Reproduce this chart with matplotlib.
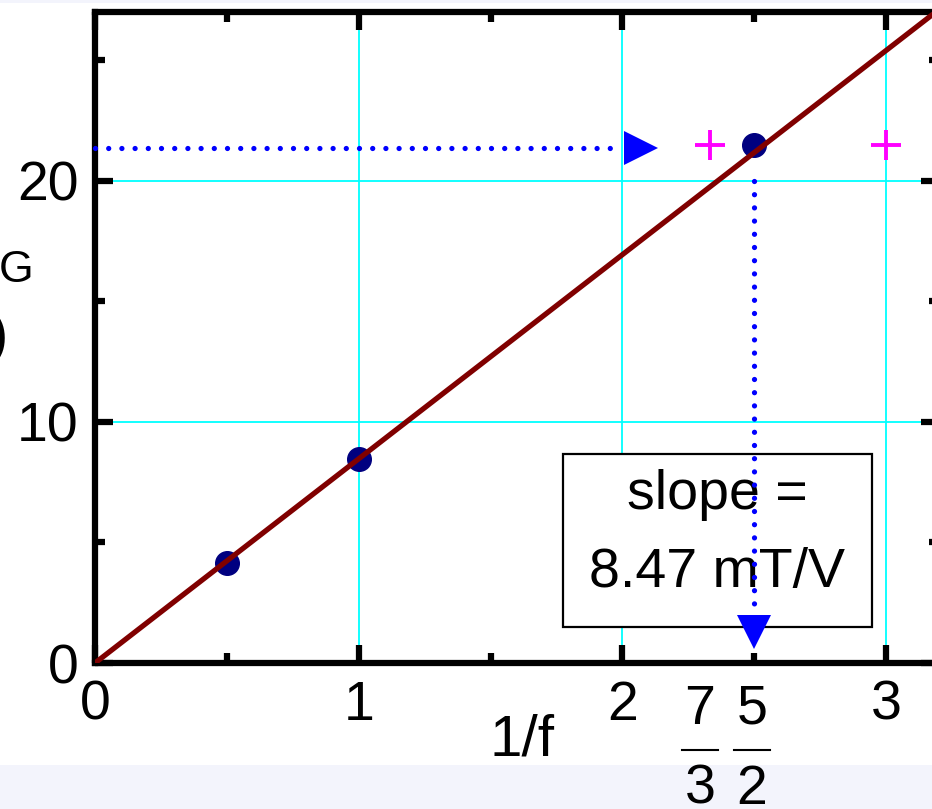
import matplotlib
matplotlib.use('Agg')
import matplotlib.pyplot as plt
from matplotlib.patches import Rectangle
from matplotlib.lines import Line2D

plt.rcParams['font.family'] = ['Liberation Sans', 'DejaVu Sans']

# measured points (1/f, field)
x_pts = [0.5, 1.0, 2.5]
y_pts = [4.15, 8.45, 21.5]

# predicted positions marked with crosses
x_cross = [7 / 3, 3.0]
y_cross = [21.5, 21.5]

slope = 8.47
fit_x = [0.0, 3.3]
fit_y = [slope * v for v in fit_x]

# guide arrows
guide_y = 21.35
guide_x_end = 2.0
drop_x = 2.5
drop_top, drop_bottom = 20.0, 2.3

W, H = 932, 809
fig = plt.figure(figsize=(W / 100, H / 100), dpi=100)
fig.patch.set_facecolor('white')

# lavender strips at top and bottom of the crop
fig.patches.append(Rectangle((0, 0), 1, 44 / H, transform=fig.transFigure,
                             facecolor='#f3f4fc', edgecolor='none', zorder=0))
fig.patches.append(Rectangle((0, 1 - 3 / H), 1, 3 / H, transform=fig.transFigure,
                             facecolor='#f3f4fc', edgecolor='none', zorder=0))

ax = fig.add_axes([95 / W, 146 / H, 844 / W, 651 / H])
ax.set_xlim(0, 3.2)
ax.set_ylim(0, 27)

ax.set_xticks([0, 1, 2, 3])
ax.set_xticks([0.5, 1.5, 2.5], minor=True)
ax.set_yticks([0, 10, 20])
ax.set_yticks([5, 15, 25], minor=True)
ax.tick_params(which='both', direction='in', top=True, right=True,
               labelsize=40, width=4.5, pad=12)
ax.tick_params(which='major', length=13)
ax.tick_params(which='minor', length=7)
for s in ax.spines.values():
    s.set_linewidth(4.5)
ax.grid(True, which='major', color='cyan', lw=1.3, zorder=0)
ax.set_axisbelow(True)

# measured points and linear fit
ax.plot(x_pts, y_pts, 'o', color='#000080', ms=17, zorder=3)
ax.plot(fit_x, fit_y, color='#800000', lw=3.8, zorder=4)
ax.plot(x_cross, y_cross, '+', color='magenta', ms=22, mew=2.8, zorder=3)

# slope box
ax.add_patch(Rectangle((1.775, 1.49), 1.172, 7.16, facecolor='white',
                       edgecolor='black', lw=1.6, zorder=5))
ax.text(2.36, 6.95, 'slope =', fontsize=40, ha='center', va='center', zorder=6)
ax.text(2.36, 3.75, '8.47 mT/V', fontsize=40, ha='center', va='center', zorder=6)

# dotted guide lines with arrowheads
dot = (0, (0.001, 2.5))
ax.plot([0, guide_x_end], [guide_y, guide_y], color='blue', lw=3.8,
        linestyle=dot, dash_capstyle='round', zorder=7, clip_on=False)
ax.plot([guide_x_end + 0.07], [guide_y], '>', color='blue', ms=24, mew=0, zorder=7)
ax.plot([drop_x, drop_x], [drop_top, drop_bottom], color='blue', lw=3.8,
        linestyle=dot, dash_capstyle='round', zorder=7)
ax.plot([drop_x], [drop_bottom - 1.0], 'v', color='blue', ms=24, mew=0, zorder=7)

# extra fraction labels under the x axis
fig.text(700 / W, 1 - 710 / H, '7', fontsize=40, ha='center', va='center')
fig.text(700 / W, 1 - 790 / H, '3', fontsize=40, ha='center', va='center')
fig.text(752 / W, 1 - 710 / H, '5', fontsize=40, ha='center', va='center')
fig.text(752 / W, 1 - 790 / H, '2', fontsize=40, ha='center', va='center')
for xc in (700, 752):
    fig.lines.append(Line2D([(xc - 18) / W, (xc + 18) / W], [1 - 750 / H, 1 - 750 / H],
                            transform=fig.transFigure, color='black', lw=1.5))

# axis label pieces
fig.text(522 / W, 1 - 740 / H, '1/f', fontsize=42, ha='center', va='center')
fig.text(8 / W, 1 - 338 / H, ')', fontsize=42, ha='right', va='center')
fig.text(16 / W, 1 - 270 / H, 'G', fontsize=32, ha='center', va='center')

fig.savefig('out.png', dpi=100)
